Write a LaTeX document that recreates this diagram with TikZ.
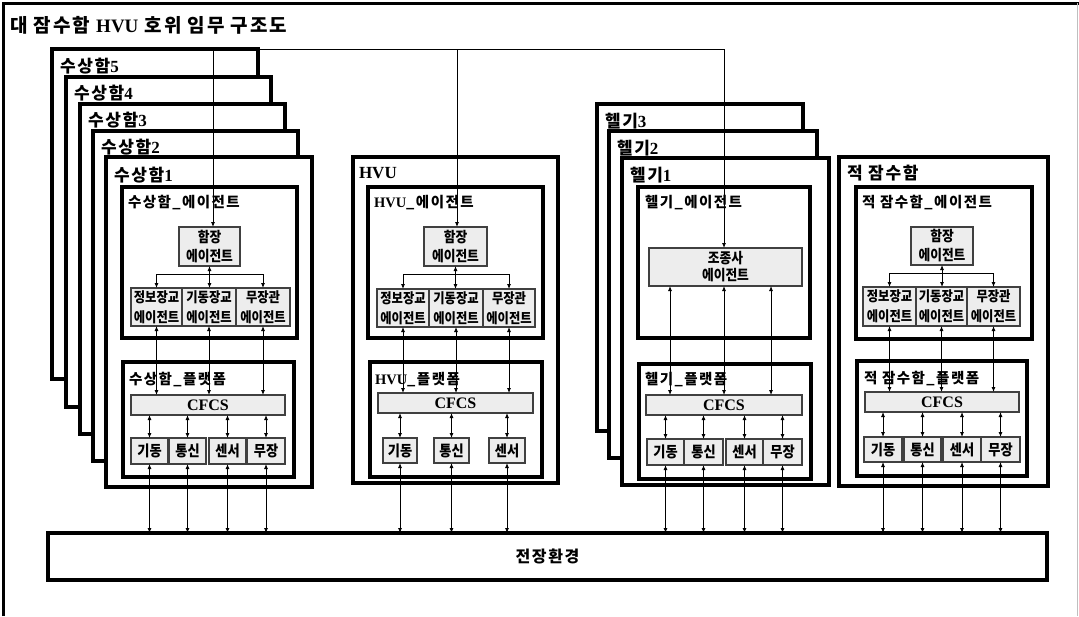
\documentclass[tikz,border=0pt]{standalone}
\usepackage{fontspec}
\setmainfont{Noto Sans CJK KR}
\newfontfamily\krsp{Noto Sans CJK KR}[LetterSpace=10]
\newfontfamily\krn{Noto Sans CJK KR}[FakeStretch=0.88]
\newfontfamily\latfam{Liberation Serif}
\newcommand\latn[1]{{\latfam\bfseries #1}}
\usetikzlibrary{arrows.meta,fit,calc}
\begin{document}
\begin{tikzpicture}[x=1pt,y=-1pt,>={Latex[length=5pt,width=4pt]},
 every node/.style={inner sep=0pt,outer sep=0pt},
 heavy/.style={draw=black,line width=3.5pt,fill=white},
 cell/.style={draw=black!75,line width=1.2pt,fill=black!7},
 wire/.style={draw=black,line width=0.8pt},
 big/.style={anchor=west,font=\krsp\bfseries\fontsize{17}{17}\selectfont},
 mid/.style={anchor=west,font=\krsp\bfseries\fontsize{14.5}{14.5}\selectfont},
 ctext/.style={font=\krn\bfseries\fontsize{14.5}{19}\selectfont,align=center},
 stext/.style={font=\krn\bfseries\fontsize{14}{20}\selectfont,align=center},
 btext/.style={font=\krn\bfseries\fontsize{15}{15}\selectfont},
 ftext/.style={font=\latfam\bfseries\fontsize{16}{16}\selectfont},
]
\useasboundingbox (0,0) rectangle (1079,616);
\draw[line width=3pt] (3,616) -- (3,3) -- (1079,3);
\draw[black!25,line width=1pt] (1077.5,3) -- (1077.5,616);
\node[anchor=west,font=\krsp\bfseries\fontsize{19}{19}\selectfont] (title) at (10,25) {대 잠수함 \latn{HVU} 호위 임무 구조도};

% ---------------- surface ship stack
\node[heavy,fit={(52,49)(258,379)}] (sh5) {};
\node[big] (sh5l) at (60,66) {수상함\latn{5}};
\node[heavy,fit={(66,77)(271,407)}] (sh4) {};
\node[big] (sh4l) at (74,93) {수상함\latn{4}};
\node[heavy,fit={(80,104)(285,434)}] (sh3) {};
\node[big] (sh3l) at (88,120) {수상함\latn{3}};
\node[heavy,fit={(93,131)(298,461)}] (sh2) {};
\node[big] (sh2l) at (101,147) {수상함\latn{2}};
\node[heavy,fit={(106,157)(312,487)}] (sh1) {};
\node[big] (sh1l) at (114,175) {수상함\latn{1}};

% ---------------- helicopter stack
\node[heavy,fit={(597,104)(803,431)}] (he3) {};
\node[big] (he3l) at (605,121) {헬기\latn{3}};
\node[heavy,fit={(609,131)(817,458)}] (he2) {};
\node[big] (he2l) at (617,148) {헬기\latn{2}};
\node[heavy,fit={(622,158)(829,485)}] (he1) {};
\node[big] (he1l) at (630,175) {헬기\latn{1}};

% ---------------- HVU and enemy submarine
\node[heavy,fit={(353,157)(558,483)}] (hvu) {};
\node[big] (hvul) at (359,173) {\latn{HVU}};
\node[heavy,fit={(839,157)(1048,486)}] (sub) {};
\node[big] (subl) at (847,173) {적 잠수함};

% ---------------- battlefield environment
\node[heavy,fit={(48,533)(1047,580)}] (env) {};
\node[font=\krsp\bfseries\fontsize{16}{16}\selectfont] (envT) at (env.center) {전장환경};

% ================= group A: surface ship
\node[heavy,fit={(122,187)(297,338)}] (aA) {};
\node[mid] (aAl) at (128,203) {수상함\_에이전트};
\node[cell,fit={(179,227)(240,266)}] (aCap) {};
\node[ctext] (aCapT) at (aCap.center) {함장\\에이전트};
\node[cell,fit={(131,288)(182,326)}] (aS1) {};
\node[cell,fit={(182,288)(236,326)}] (aS2) {};
\node[cell,fit={(236,288)(290,326)}] (aS3) {};
\node[stext] (aS1T) at (aS1.center) {정보장교\\에이전트};
\node[stext] (aS2T) at (aS2.center) {기동장교\\에이전트};
\node[stext] (aS3T) at (aS3.center) {무장관\\에이전트};
\node[heavy,fit={(123,362)(294,477)}] (aP) {};
\node[mid] (aPl) at (129,380) {수상함\_플랫폼};
\node[cell,fit={(131,395)(285,415)}] (aC) {};
\node[ftext] (aCT) at (aC.center) {CFCS};
\node[cell,fit={(131,438)(168,464)}] (aB1) {};
\node[cell,fit={(169,438)(206,464)}] (aB2) {};
\node[cell,fit={(209,438)(246,464)}] (aB3) {};
\node[cell,fit={(247,438)(285,464)}] (aB4) {};
\node[btext] (aB1T) at (aB1.center) {기동};
\node[btext] (aB2T) at (aB2.center) {통신};
\node[btext] (aB3T) at (aB3.center) {센서};
\node[btext] (aB4T) at (aB4.center) {무장};
\coordinate (aJ) at ($(aCap.south)+(0,8)$);
\draw[wire,<->] (aCap.south) -- (aCap.south |- aS2.north);
\draw[wire,->] (aJ) -| (aS1.north);
\draw[wire,->] (aJ) -| (aS3.north);
\foreach \s in {aS1,aS2,aS3} \draw[wire,<->] (\s.south) -- (\s.south |- aC.north);
\foreach \b in {aB1,aB2,aB3,aB4} {
  \draw[wire,<->] (aC.south -| \b.north) -- (\b.north);
  \draw[wire,<->] (\b.south) -- (\b.south |- env.north);
}

% ================= group B: HVU
\node[heavy,fit={(368,187)(543,338)}] (bA) {};
\node[mid] (bAl) at (374,203) {\latn{HVU}\_에이전트};
\node[cell,fit={(424,227)(487,266)}] (bCap) {};
\node[ctext] (bCapT) at (bCap.center) {함장\\에이전트};
\node[cell,fit={(377,289)(429,327)}] (bS1) {};
\node[cell,fit={(429,289)(483,327)}] (bS2) {};
\node[cell,fit={(483,289)(535,327)}] (bS3) {};
\node[stext] (bS1T) at (bS1.center) {정보장교\\에이전트};
\node[stext] (bS2T) at (bS2.center) {기동장교\\에이전트};
\node[stext] (bS3T) at (bS3.center) {무장관\\에이전트};
\node[heavy,fit={(370,362)(542,477)}] (bP) {};
\node[mid] (bPl) at (375,380) {\latn{HVU}\_플랫폼};
\node[cell,fit={(378,393)(533,413)}] (bC) {};
\node[ftext] (bCT) at (bC.center) {CFCS};
\node[cell,fit={(383,438)(417,463)}] (bB1) {};
\node[cell,fit={(434,438)(469,463)}] (bB2) {};
\node[cell,fit={(489,438)(525,463)}] (bB3) {};
\node[btext] (bB1T) at (bB1.center) {기동};
\node[btext] (bB2T) at (bB2.center) {통신};
\node[btext] (bB3T) at (bB3.center) {센서};
\coordinate (bJ) at ($(bCap.south)+(0,8)$);
\draw[wire,<->] (bCap.south) -- (bCap.south |- bS2.north);
\draw[wire,->] (bJ) -| (bS1.north);
\draw[wire,->] (bJ) -| (bS3.north);
\foreach \s in {bS1,bS2,bS3} \draw[wire,<->] (\s.south) -- (\s.south |- bC.north);
\foreach \b in {bB1,bB2,bB3} {
  \draw[wire,<->] (bC.south -| \b.north) -- (\b.north);
  \draw[wire,<->] (\b.south) -- (\b.south |- env.north);
}

% ================= group C: helicopter
\node[heavy,fit={(638,187)(810,338)}] (cA) {};
\node[mid] (cAl) at (645,203) {헬기\_에이전트};
\node[cell,fit={(649,248)(802,286)}] (cPil) {};
\node[font=\krn\bfseries\fontsize{14.5}{17}\selectfont,align=center] (cPilT) at (cPil.center) {조종사\\에이전트};
\node[heavy,fit={(639,364)(811,479)}] (cP) {};
\node[mid] (cPl) at (645,380) {헬기\_플랫폼};
\node[cell,fit={(646,395)(802,415)}] (cC) {};
\node[ftext] (cCT) at (cC.center) {CFCS};
\node[cell,fit={(647,439)(684,465)}] (cB1) {};
\node[cell,fit={(684,439)(723,465)}] (cB2) {};
\node[cell,fit={(726,439)(763,465)}] (cB3) {};
\node[cell,fit={(763,439)(802,465)}] (cB4) {};
\node[btext] (cB1T) at (cB1.center) {기동};
\node[btext] (cB2T) at (cB2.center) {통신};
\node[btext] (cB3T) at (cB3.center) {센서};
\node[btext] (cB4T) at (cB4.center) {무장};
\coordinate (cx1) at (670,0);
\coordinate (cx2) at (724,0);
\coordinate (cx3) at (771,0);
\foreach \x in {cx1,cx2,cx3} \draw[wire,<->] (cPil.south -| \x) -- (cC.north -| \x);
\foreach \b in {cB1,cB2,cB3,cB4} {
  \draw[wire,<->] (cC.south -| \b.north) -- (\b.north);
  \draw[wire,<->] (\b.south) -- (\b.south |- env.north);
}

% ================= group D: enemy submarine
\node[heavy,fit={(856,187)(1032,339)}] (dA) {};
\node[mid] (dAl) at (862,203) {적 잠수함\_에이전트};
\node[cell,fit={(911,227)(973,265)}] (dCap) {};
\node[ctext] (dCapT) at (dCap.center) {함장\\에이전트};
\node[cell,fit={(863,287)(916,326)}] (dS1) {};
\node[cell,fit={(916,287)(967,326)}] (dS2) {};
\node[cell,fit={(967,287)(1020,326)}] (dS3) {};
\node[stext] (dS1T) at (dS1.center) {정보장교\\에이전트};
\node[stext] (dS2T) at (dS2.center) {기동장교\\에이전트};
\node[stext] (dS3T) at (dS3.center) {무장관\\에이전트};
\node[heavy,fit={(857,361)(1027,476)}] (dP) {};
\node[mid] (dPl) at (864,379) {적 잠수함\_플랫폼};
\node[cell,fit={(865,392)(1019,412)}] (dC) {};
\node[ftext] (dCT) at (dC.center) {CFCS};
\node[cell,fit={(864,437)(902,462)}] (dB1) {};
\node[cell,fit={(904,437)(941,462)}] (dB2) {};
\node[cell,fit={(943,437)(981,462)}] (dB3) {};
\node[cell,fit={(981,437)(1020,462)}] (dB4) {};
\node[btext] (dB1T) at (dB1.center) {기동};
\node[btext] (dB2T) at (dB2.center) {통신};
\node[btext] (dB3T) at (dB3.center) {센서};
\node[btext] (dB4T) at (dB4.center) {무장};
\coordinate (dJ) at ($(dCap.south)+(0,8)$);
\draw[wire,<->] (dCap.south) -- (dCap.south |- dS2.north);
\draw[wire,->] (dJ) -| (dS1.north);
\draw[wire,->] (dJ) -| (dS3.north);
\foreach \s in {dS1,dS2,dS3} \draw[wire,<->] (\s.south) -- (\s.south |- dC.north);
\foreach \b in {dB1,dB2,dB3,dB4} {
  \draw[wire,<->] (dC.south -| \b.north) -- (\b.north);
  \draw[wire,<->] (\b.south) -- (\b.south |- env.north);
}

% ================= top command lines
\coordinate (tL) at (213,49);
\coordinate (tM) at (457,49);
\coordinate (tR) at (724,49);
\draw[wire] (tL) -- (tR);
\draw[wire,->] (tL) -- (tL |- aCap.north);
\draw[wire,->] (tM) -- (tM |- bCap.north);
\draw[wire,->] (tR) -- (tR |- cPil.north);
\end{tikzpicture}
\end{document}
